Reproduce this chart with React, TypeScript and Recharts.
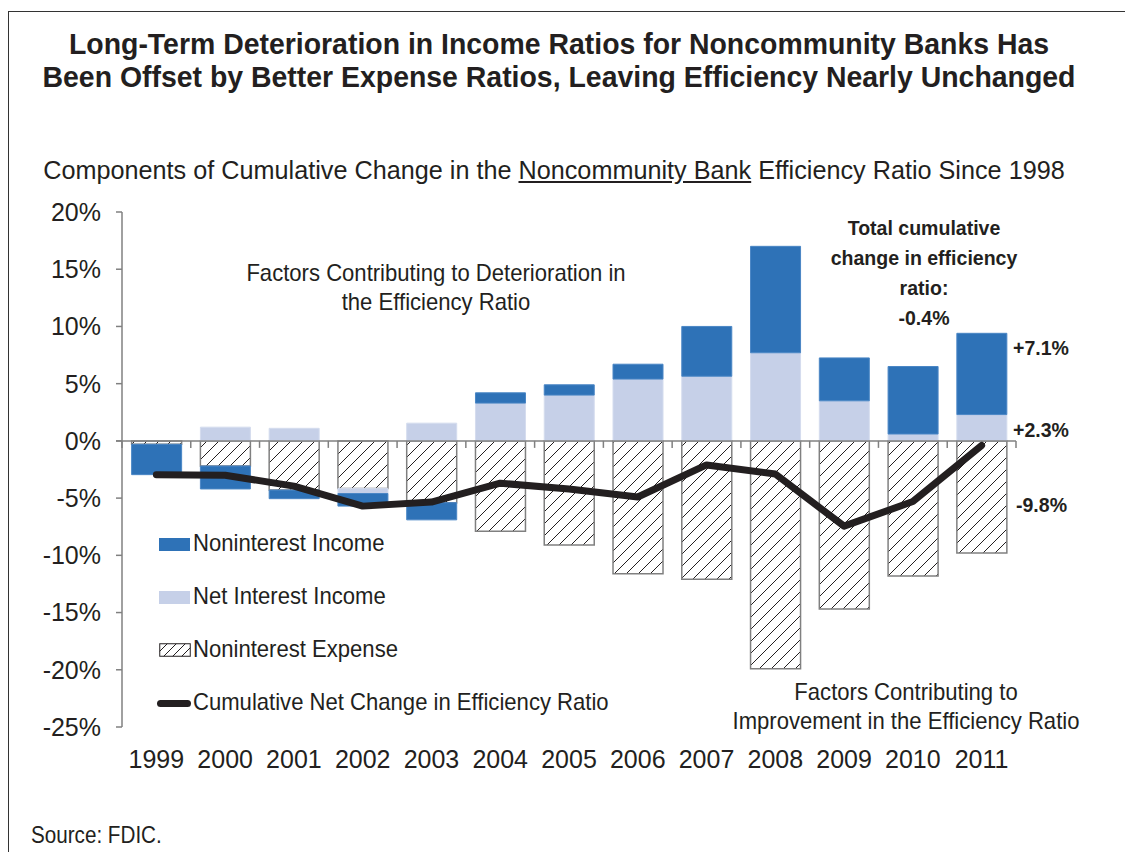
import { ComposedChart, Bar, Line, XAxis, YAxis, ReferenceLine } from "recharts";

const years = ["1999", "2000", "2001", "2002", "2003", "2004", "2005", "2006", "2007", "2008", "2009", "2010", "2011"];
const nonintExpense = [-0.3, -2.2, -4.3, -4.15, -5.4, -7.9, -9.1, -11.6, -12.1, -19.9, -14.7, -11.8, -9.8];
const netInterest = [0, 1.2, 1.1, -0.45, 1.55, 3.3, 4.0, 5.4, 5.65, 7.7, 3.5, 0.6, 2.3];
const nonintIncome = [-2.65, -2.0, -0.75, -1.1, -1.5, 0.9, 0.9, 1.3, 4.35, 9.3, 3.75, 5.9, 7.1];
const netChange = [-2.95, -3.0, -3.95, -5.7, -5.35, -3.7, -4.2, -4.9, -2.1, -2.9, -7.45, -5.3, -0.4];
const yTicks = [-25, -20, -15, -10, -5, 0, 5, 10, 15, 20];

const data = years.map((year, i) => ({
  year,
  expense: nonintExpense[i],
  netInt: netInterest[i],
  nonInt: nonintIncome[i],
  net: netChange[i],
}));

const FONT = '"Liberation Sans", Arial, sans-serif';
const DARK = "#2E72B7";
const LIGHT = "#C6D0E8";
const INK = "#231F20";
const AXIS = "#808080";

const fmt = (v: number) => (v > 0 ? "+" : "-") + Math.abs(v).toFixed(1) + "%";

const ZeroLine = (props: any) => {
  const { x1, x2, y1 } = props;
  const n = years.length;
  const step = (x2 - x1) / n;
  return (
    <g>
      <line x1={x1 - 6} x2={x2} y1={y1} y2={y1} stroke={AXIS} strokeWidth={1.5} />
      {Array.from({ length: n + 1 }, (_, i) => (
        <line key={i} x1={x1 + i * step} x2={x1 + i * step} y1={y1} y2={y1 + 7} stroke={AXIS} strokeWidth={1.5} />
      ))}
    </g>
  );
};

// text block; sx squeezes the glyphs to imitate the narrow face of the original
const Txt = ({ x, y, size = 24, bold = false, center = false, sx = 0.92, lh = 1.2, children }: any) => (
  <div
    style={{
      position: "absolute",
      left: center ? x - 700 : x,
      top: y,
      width: center ? 1400 : undefined,
      textAlign: center ? "center" : "left",
      fontFamily: FONT,
      fontSize: size,
      fontWeight: bold ? 700 : 400,
      color: INK,
      lineHeight: lh,
      whiteSpace: "nowrap",
      transform: `scaleX(${sx})`,
      transformOrigin: center ? "50% 0" : "0 0",
    }}
  >
    {children}
  </div>
);

const Swatch = ({ y, kind }: { y: number; kind: string }) => {
  if (kind === "line")
    return <div style={{ position: "absolute", left: 157, top: y - 3.5, width: 34, height: 7, borderRadius: 4, background: INK }} />;
  if (kind === "hatch")
    return (
      <svg style={{ position: "absolute", left: 159, top: y - 7 }} width={32} height={14}>
        <defs>
          <pattern id="hatchLegend" width={9} height={9} patternUnits="userSpaceOnUse">
            <line x1={0} y1={9} x2={9} y2={0} stroke={INK} strokeWidth={1} />
          </pattern>
        </defs>
        <rect x={0.75} y={0.75} width={30.5} height={12.5} fill="url(#hatchLegend)" stroke={INK} strokeWidth={1} />
      </svg>
    );
  return <div style={{ position: "absolute", left: 159, top: y - 6.5, width: 31, height: 13, background: kind === "dark" ? DARK : LIGHT }} />;
};

export default function App() {
  const last = years.length - 1;
  return (
    <div style={{ position: "fixed", left: 0, top: 0, width: 1125, height: 852, overflow: "hidden", background: "#fff" }}>
      <div style={{ position: "absolute", left: 8, top: 11, width: 1120, height: 900, border: "1.5px solid #333" }} />

      <Txt x={559} y={28} size={29} bold center sx={0.98} lh="33px">
        Long-Term Deterioration in Income Ratios for Noncommunity Banks Has
        <br />
        Been Offset by Better Expense Ratios, Leaving Efficiency Nearly Unchanged
      </Txt>
      <Txt x={554} y={155} size={26} center sx={0.97}>
        Components of Cumulative Change in the <span style={{ textDecoration: "underline" }}>Noncommunity Bank</span> Efficiency Ratio Since 1998
      </Txt>

      <div style={{ position: "absolute", left: 0, top: 0 }}>
        <ComposedChart
          width={1125}
          height={852}
          data={data}
          stackOffset="sign"
          barCategoryGap="14%"
          margin={{ top: 212, right: 109, bottom: 65, left: 22 }}
        >
          <defs>
            <pattern id="hatch" width={12} height={12} patternUnits="userSpaceOnUse">
              <rect width={12} height={12} fill="#fff" />
              <line x1={-3} y1={15} x2={15} y2={-3} stroke={INK} strokeWidth={1} />
              <line x1={-3} y1={3} x2={3} y2={-3} stroke={INK} strokeWidth={1} />
              <line x1={9} y1={15} x2={15} y2={9} stroke={INK} strokeWidth={1} />
            </pattern>
          </defs>
          <XAxis
            dataKey="year"
            height={60}
            axisLine={false}
            tickLine={false}
            tickMargin={17}
            interval={0}
            tick={{ fill: INK, fontSize: 25, fontFamily: FONT }}
          />
          <YAxis
            width={100}
            domain={[-25, 20]}
            ticks={yTicks}
            interval={0}
            tickFormatter={(v: number) => `${v}%`}
            axisLine={{ stroke: AXIS, strokeWidth: 1.5 }}
            tickLine={{ stroke: AXIS, strokeWidth: 1.5 }}
            tickSize={6}
            tickMargin={15}
            tick={{ fill: INK, fontSize: 25, fontFamily: FONT }}
          />
          <Bar dataKey="expense" stackId="s" fill="url(#hatch)" stroke={AXIS} strokeWidth={1.5} isAnimationActive={false} />
          <Bar dataKey="netInt" stackId="s" fill={LIGHT} stroke="#D4DCEE" strokeWidth={1} isAnimationActive={false} />
          <Bar dataKey="nonInt" stackId="s" fill={DARK} stroke="#4A86C5" strokeWidth={1} isAnimationActive={false} />
          <ReferenceLine y={0} shape={ZeroLine} />
          <Line
            dataKey="net"
            type="linear"
            stroke={INK}
            strokeWidth={7}
            strokeLinecap="round"
            strokeLinejoin="round"
            dot={false}
            activeDot={false}
            isAnimationActive={false}
          />
        </ComposedChart>
      </div>

      <Txt x={436} y={259} center>
        Factors Contributing to Deterioration in
        <br />
        the Efficiency Ratio
      </Txt>
      <Txt x={924} y={213} size={21} bold center sx={0.93} lh="30px">
        Total cumulative
        <br />
        change in efficiency
        <br />
        ratio:
        <br />
        {fmt(netChange[last])}
      </Txt>
      <Txt x={1013} y={335} size={21} bold sx={0.93}>
        {fmt(nonintIncome[last])}
      </Txt>
      <Txt x={1013} y={417} size={21} bold sx={0.93}>
        {fmt(netInterest[last])}
      </Txt>
      <Txt x={1016} y={492} size={21} bold sx={0.93}>
        {fmt(nonintExpense[last])}
      </Txt>
      <Txt x={906} y={678} center>
        Factors Contributing to
        <br />
        Improvement in the Efficiency Ratio
      </Txt>

      <Swatch y={544} kind="dark" />
      <Txt x={193} y={529}>Noninterest Income</Txt>
      <Swatch y={597} kind="light" />
      <Txt x={193} y={582}>Net Interest Income</Txt>
      <Swatch y={650} kind="hatch" />
      <Txt x={193} y={635}>Noninterest Expense</Txt>
      <Swatch y={703} kind="line" />
      <Txt x={193} y={688}>Cumulative Net Change in Efficiency Ratio</Txt>

      <Txt x={31} y={821} sx={0.86}>Source: FDIC.</Txt>
    </div>
  );
}
